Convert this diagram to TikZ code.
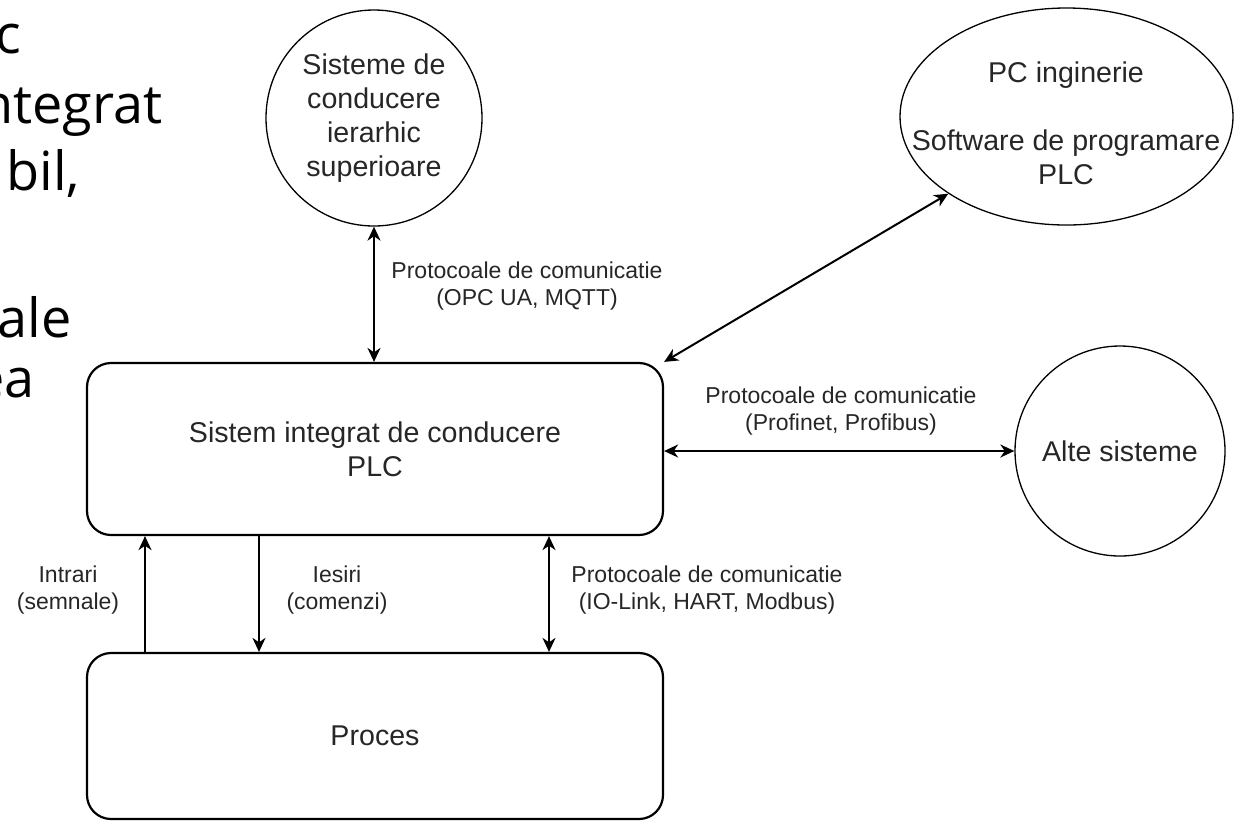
\documentclass[tikz,border=0pt]{standalone}
\usepackage{fontspec}
\setmainfont{Liberation Sans}
\newfontfamily\slidefont{Open Sans}
\usetikzlibrary{arrows.meta,shapes.geometric}
\newcommand\dgnodefont{\fontsize{14.3}{17}\selectfont}
\newcommand\dglabelfont{\fontsize{11.5}{13.2}\selectfont}
\newcommand\dgslidefont{\slidefont\fontsize{27}{30}\selectfont}
\begin{document}
\begin{tikzpicture}[x=0.5pt,y=-0.5pt,
  >={Stealth[length=7pt,width=6.5pt,inset=2.2pt]},
  box/.style={draw, line width=1.1pt, rounded corners=12pt, minimum width=288pt,
    inner sep=0pt, align=center, font=\dgnodefont, text=black!85},
  round/.style={draw, line width=0.65pt, circle, inner sep=0pt, align=center,
    font=\dgnodefont, text=black!85},
  lbl/.style={align=center, font=\dglabelfont, text=black!85, inner sep=0pt},
  slide/.style={font=\dgslidefont, inner sep=0pt},
  link/.style={line width=1pt}
]
\useasboundingbox (0,0) rectangle (1236,821);
\clip (0,0) rectangle (1236,821);

% slide text running in from the left
\node[slide, anchor=base east] (s1) at (22,53) {c};
\node[slide, anchor=base east] (s2) at (163,123) {ntegrat};
\node[slide, anchor=base west] (s3) at (6,190) {bil,};
\node[slide, anchor=base east] (s4) at (72,337) {ale};
\node[slide, anchor=base east] (s5) at (35,397) {ea};

% blocks
\node[box, minimum height=86pt] (plc) at (375,449) {Sistem integrat de conducere\\PLC};
\node[box, minimum height=83pt] (proc) at (375,736) {Proces};

\node[round, minimum size=108pt] (sup) at (374,118)
  {Sisteme de\\conducere\\ierarhic\\superioare};
\node[draw, line width=0.65pt, ellipse, minimum width=166.5pt, minimum height=108.5pt,
  inner sep=0pt] (pc) at (1066.5,116.5) {};
\node[align=center, font=\dgnodefont, text=black!85, inner sep=0pt] (pctext)
  at (1066,123) {PC inginerie\\[17pt]Software de programare\\PLC};
\node[round, minimum size=105pt] (alte) at (1120,451) {Alte sisteme};

% connectors
\coordinate (xin) at (145,0);
\coordinate (xout) at (259,0);
\coordinate (xbus) at (549,0);

\draw[link,<->] (sup.south) -- (sup.south |- plc.north);
\draw[link,<->] (plc.north east) -- (pc.south west);
\draw[link,<->] (alte.west -| plc.east) -- (alte.west);
\draw[link,->] (proc.north -| xin) -- (plc.south -| xin);
\draw[link,->] (plc.south -| xout) -- (proc.north -| xout);
\draw[link,<->] (plc.south -| xbus) -- (proc.north -| xbus);

% connector labels
\node[lbl] (l1) at (527,286) {Protocoale de comunicatie\\(OPC UA, MQTT)};
\node[lbl] (l2) at (841,411) {Protocoale de comunicatie\\(Profinet, Profibus)};
\node[lbl] (l3) at (68,590) {Intrari\\(semnale)};
\node[lbl] (l4) at (337,590) {Iesiri\\(comenzi)};
\node[lbl] (l5) at (707,590) {Protocoale de comunicatie\\(IO-Link, HART, Modbus)};
\end{tikzpicture}
\end{document}
